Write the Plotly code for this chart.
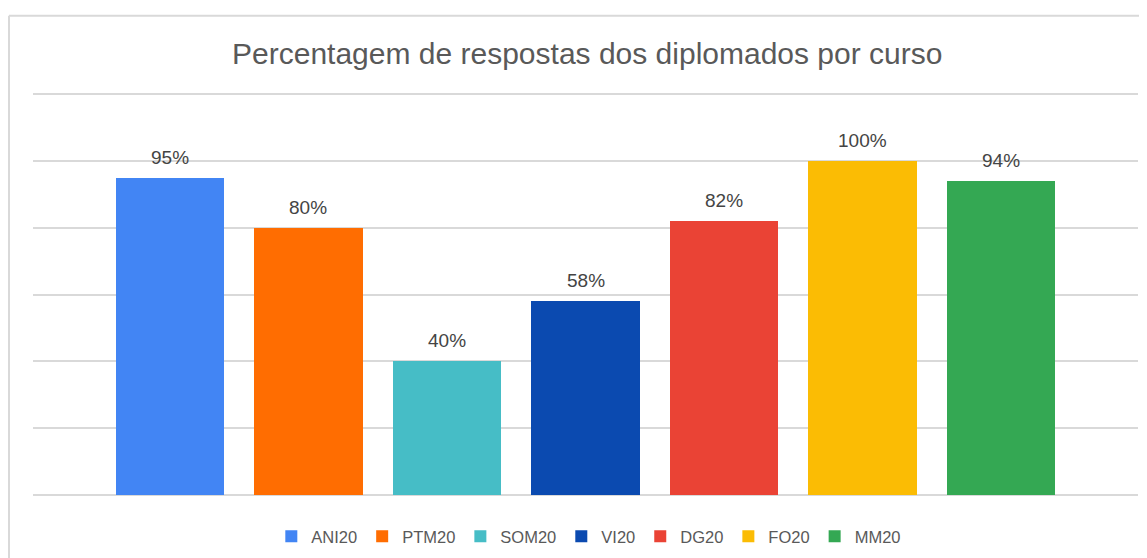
import plotly.graph_objects as go

courses = ['ANI20', 'PTM20', 'SOM20', 'VI20', 'DG20', 'FO20', 'MM20']
pct = [95, 80, 40, 58, 82, 100, 94]
colors = ['#4285F4', '#FF6D01', '#46BDC6', '#0B4AB0', '#EA4335', '#FBBC04', '#34A853']

fig = go.Figure()
for i, (name, val, c) in enumerate(zip(courses, pct, colors)):
    fig.add_trace(go.Bar(x=[i], y=[val], name=name, marker_color=c,
                         marker_line_width=0, width=0.78))
    # value label a bit above the bar
    fig.add_annotation(x=i, y=val, text=f'{val}%', showarrow=False,
                       yanchor='bottom', yshift=8,
                       font=dict(size=19, color='#444444'))

# chart frame (left + top edges, the rest is cut off)
fig.add_shape(type='line', xref='paper', yref='paper', x0=-0.0217, x1=-0.0217,
              y0=1.186, y1=-0.3, line=dict(color='#d9d9d9', width=2))
fig.add_shape(type='line', xref='paper', yref='paper', x0=-0.0217, x1=1.05,
              y0=1.186, y1=1.186, line=dict(color='#d9d9d9', width=2))

fig.update_layout(
    width=1147, height=558,
    margin=dict(l=25, r=17, t=83, b=70),
    paper_bgcolor='white', plot_bgcolor='white',
    font=dict(family='Liberation Sans, Arial', color='#595959'),
    title=dict(text='Percentagem de respostas dos diplomados por curso',
               x=0.505, xanchor='center', y=0.918, yanchor='middle',
               font=dict(size=30, color='#595959')),
    showlegend=True,
    legend=dict(orientation='h', x=0.503, xanchor='center', y=-0.057, yanchor='top',
                font=dict(size=16.5, color='#595959'), itemwidth=30,
                traceorder='normal'),
    bargap=0,
)
fig.update_xaxes(range=[-0.989, 6.989], showticklabels=False, showgrid=False,
                 zeroline=False, showline=False)
fig.update_yaxes(range=[-0.3, 121], tickvals=[0, 20, 40, 60, 80, 100, 120],
                 showticklabels=False, gridcolor='#d9d9d9', gridwidth=2,
                 zeroline=True, zerolinecolor='#d9d9d9', zerolinewidth=2,
                 showline=False)

fig.write_html('out.html')
